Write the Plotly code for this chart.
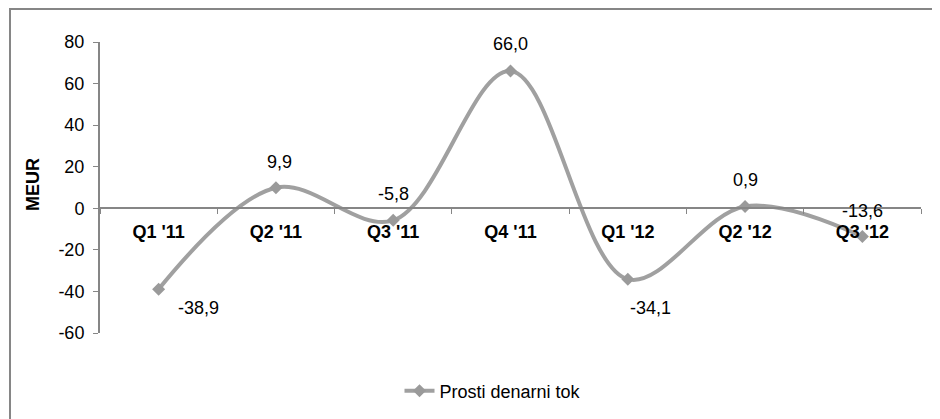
import plotly.graph_objects as go

categories = ["Q1 '11", "Q2 '11", "Q3 '11", "Q4 '11", "Q1 '12", "Q2 '12", "Q3 '12"]
values = [-38.9, 9.9, -5.8, 66.0, -34.1, 0.9, -13.6]
series_name = "Prosti denarni tok"
y_ticks = [-60, -40, -20, 0, 20, 40, 60, 80]
y_ticktext = ["-60", "-40", "-20", "0", "20", "40", "60", "80"]

# label offsets (pixels) for data labels
label_dx = [40, 4, 0, 0, 23, 0, 0]
label_dy = [-19, 26, 26, 27, -29, 26, 26]

FONT = "Liberation Sans, Arial, sans-serif"
FS = 18
GRAY = "#A0A0A0"
AXIS = "#868686"

OFF = 8  # page body margin
W, H = 940, 419
# desired screen positions of plot area
PL, PR, PT, PB = 100, 921, 42, 333
ML, MT = PL - OFF, PT - OFF
MR = W - (PR - OFF)
MB = H - (PB - OFF)
PW = PR - PL
PH = PB - PT


def px_to_paper_x(px):
    return (px - PL) / PW


def px_to_paper_y(py):
    return (PB - py) / PH


fig = go.Figure()
fig.add_trace(go.Scatter(
    x=categories, y=values, mode="lines+markers", name=series_name,
    line=dict(color=GRAY, width=4, shape="spline", smoothing=1),
    marker=dict(symbol="diamond", size=10, color="#9A9A9A"),
))

for c, v, dx, dy in zip(categories, values, label_dx, label_dy):
    fig.add_annotation(
        x=c, y=v, text=f"{v:.1f}".replace(".", ","), showarrow=False,
        xshift=dx, yshift=dy, font=dict(family=FONT, size=FS, color="#000000"),
    )

ymin, ymax = -60, 80
zero_pos = (0 - ymin) / (ymax - ymin)

fig.update_layout(
    width=W, height=H,
    margin=dict(l=ML, r=MR, t=MT, b=MB, autoexpand=False),
    paper_bgcolor="white", plot_bgcolor="white",
    font=dict(family=FONT, size=FS, color="#000000"),
    showlegend=True,
    legend=dict(orientation="h", x=px_to_paper_x(493), y=px_to_paper_y(391),
                xanchor="center", yanchor="middle",
                font=dict(family=FONT, size=FS, color="#000000"),
                bgcolor="rgba(0,0,0,0)"),
    xaxis=dict(type="category", range=[-0.5, 6.5], anchor="free", position=zero_pos,
               showline=True, linecolor=AXIS, linewidth=2,
               ticks="outside", tickson="boundaries", ticklen=5, tickcolor=AXIS, tickwidth=1,
               showgrid=False, zeroline=False, ticklabelstandoff=7,
               tickfont=dict(family=FONT, size=FS, color="#000000", weight="bold")),
    yaxis=dict(range=[ymin, ymax], tickvals=y_ticks, ticktext=y_ticktext,
               showline=True, linecolor=AXIS, linewidth=2,
               ticks="outside", ticklen=5, tickcolor=AXIS, tickwidth=1,
               showgrid=False, zeroline=False, ticklabelstandoff=5,
               tickfont=dict(family=FONT, size=FS, color="#000000")),
)

fig.add_annotation(
    xref="paper", yref="paper", x=px_to_paper_x(33), y=px_to_paper_y(185),
    xanchor="center", yanchor="middle",
    text="<b>MEUR</b>", textangle=-90, showarrow=False,
    font=dict(family=FONT, size=FS, color="#000000"),
)

fig.add_shape(
    type="rect", xref="paper", yref="paper", layer="below",
    x0=px_to_paper_x(10), x1=px_to_paper_x(960),
    y0=px_to_paper_y(440), y1=px_to_paper_y(9),
    line=dict(color=AXIS, width=2),
)

fig.write_html("out.html")
